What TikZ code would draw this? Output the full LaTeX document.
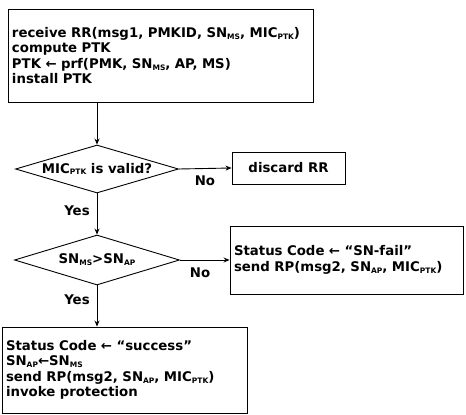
\documentclass[tikz,border=0pt]{standalone}
\usepackage{fontspec}
\setmainfont{DejaVu Sans}
\usetikzlibrary{shapes.geometric,arrows.meta}
\newcommand\lo[1]{\raisebox{-0.25ex}{\fontsize{7.5}{8}\selectfont #1}}
\begin{document}
\begin{tikzpicture}[x=1pt,y=-1pt,
  every node/.style={font=\bfseries\fontsize{13.3}{15.5}\selectfont},
  box/.style={draw,line width=0.9pt,rectangle,inner xsep=4pt,inner ysep=0pt,align=left},
  dec/.style={draw,line width=0.9pt,diamond,inner sep=0pt,aspect=3.5},
  arr/.style={line width=0.9pt,-{Stealth[length=6pt,width=5pt]}},
  lbl/.style={inner sep=0pt}]
\useasboundingbox (0,0) rectangle (466,415);
\node[box,text width=297pt,minimum height=93pt] (top) at (160.5,55.5)
 {receive RR(msg1, PMKID, SN\lo{MS}, MIC\lo{PTK})\\
  compute PTK\\
  PTK ← prf(PMK, SN\lo{MS}, AP, MS)\\
  install PTK};
\node[dec,minimum width=163pt,minimum height=48pt] (d1) at (97,169)
 {MIC\lo{PTK} is valid?};
\node[box,minimum width=113pt,minimum height=32pt,align=center] (discard) at (288.5,168)
 {discard RR};
\node[dec,minimum width=165pt,minimum height=50pt] (d2) at (97,260)
 {SN\lo{MS}>SN\lo{AP}};
\node[box,text width=225pt,minimum height=68pt] (fail) at (346.5,260)
 {Status Code ← “SN-fail”\\
  send RP(msg2, SN\lo{AP}, MIC\lo{PTK})};
\node[box,text width=237pt,minimum height=86pt] (ok) at (124.5,370)
 {Status Code ← “success”\\
  SN\lo{AP}←SN\lo{MS}\\
  send RP(msg2, SN\lo{AP}, MIC\lo{PTK})\\
  invoke protection};
\draw[arr] (top.south -| d1.north) -- (d1.north);
\draw[arr] (d1.east) -- (discard.west);
\draw[arr] (d1.south) -- (d2.north);
\draw[arr] (d2.east) -- (fail.west);
\draw[arr] (d2.south) -- (d2.south |- ok.north);
\node[lbl] (no1) at (205,181) {No};
\node[lbl] (yes1) at (77,211) {Yes};
\node[lbl] (no2) at (200,273) {No};
\node[lbl] (yes2) at (77,300) {Yes};
\end{tikzpicture}
\end{document}
